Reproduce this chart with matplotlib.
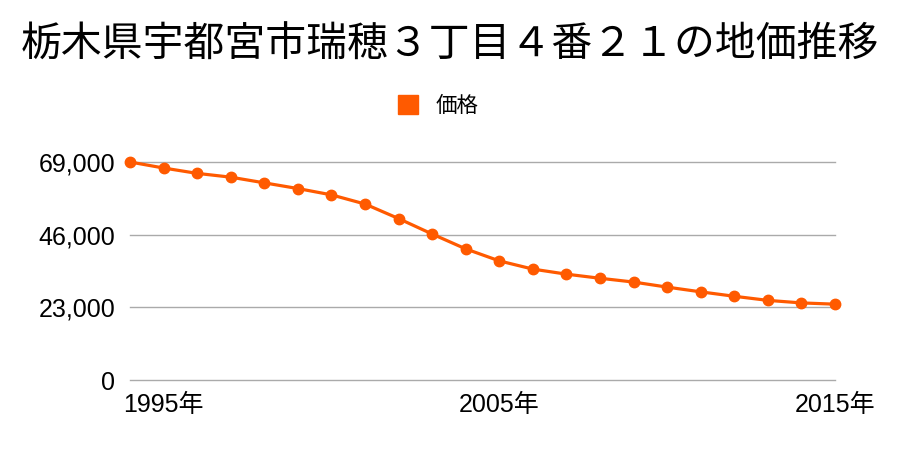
import matplotlib
matplotlib.use('Agg')
import matplotlib.pyplot as plt
from matplotlib.ticker import FuncFormatter

plt.rcParams['font.family'] = ['Noto Sans CJK JP', 'DejaVu Sans']

# land price per year (yen / m2)
years = list(range(1994, 2016))
price = [69000, 67100, 65400, 64200, 62400, 60600, 58600, 55700, 51100, 46200,
         41500, 37700, 35100, 33500, 32200, 31000, 29400, 27900, 26500, 25200,
         24400, 24000]
yticks = [0, 23000, 46000, 69000]
xticks = [1995, 2005, 2015]
title = '栃木県宇都宮市瑞穂３丁目４番２１の地価推移'
color = '#FF5A00'
tickfont = ['Liberation Sans', 'Noto Sans CJK JP']

fig = plt.figure(figsize=(9, 4.5), dpi=100)
ax = fig.add_axes([130 / 900, 70 / 450, 705 / 900, 218 / 450])

ax.plot(years, price, color=color, lw=2.3, marker='o', ms=7.5, label='価格',
        clip_on=False, zorder=3)

ax.set_xlim(years[0], years[-1])
ax.set_ylim(0, 69000)
ax.set_yticks(yticks)
ax.set_xticks(xticks)
ax.set_xticklabels([f'{y}年' for y in xticks])
ax.yaxis.set_major_formatter(FuncFormatter(lambda v, p: f'{int(v):,}'))
ax.grid(axis='y', color='#aaaaaa', lw=1)
for gl in ax.get_ygridlines():
    gl.set_clip_on(False)
ax.tick_params(length=0)
ax.tick_params(axis='y', pad=10.5)
ax.tick_params(axis='x', pad=9)
for lab in ax.get_xticklabels() + ax.get_yticklabels():
    lab.set_fontfamily(tickfont)
    lab.set_fontsize(18)
for s in ax.spines.values():
    s.set_visible(False)

fig.text(0.5, 0.9, title, ha='center', va='center', fontsize=29.4)
fig.legend(loc='center', bbox_to_anchor=(0.487, 0.765), frameon=False,
           handles=[plt.Rectangle((0, 0), 1, 1, color=color)], labels=['価格'],
           fontsize=15.5, handlelength=0.95, handleheight=0.95, handletextpad=0.8)

fig.savefig('out.png', dpi=100)
